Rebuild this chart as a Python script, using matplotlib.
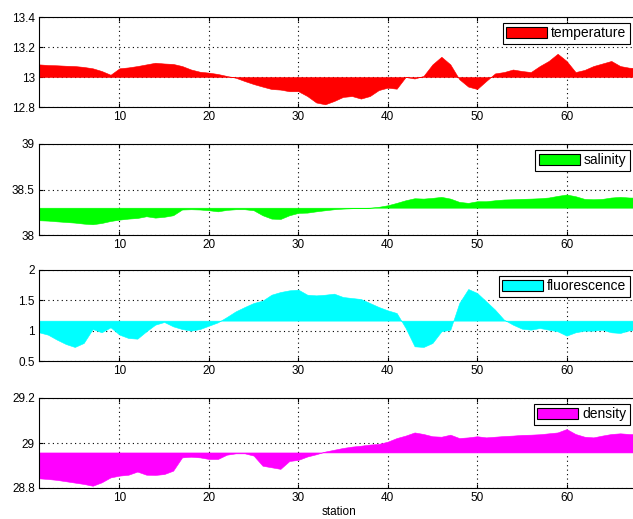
import numpy as np
import matplotlib
matplotlib.use("Agg")
import matplotlib.pyplot as plt

plt.rcParams['font.family'] = ['Liberation Sans', 'DejaVu Sans']
plt.rcParams['font.size'] = 8.5

# station number
station = np.arange(1, 69)

temperature = [13.084, 13.08, 13.078, 13.075, 13.073, 13.067, 13.058, 13.04, 13.015, 13.058,
               13.064, 13.073, 13.084, 13.095, 13.09, 13.087, 13.073, 13.05, 13.035, 13.029,
               13.02, 13.007, 12.995, 12.973, 12.953, 12.936, 12.92, 12.916, 12.905, 12.905,
               12.873, 12.83, 12.818, 12.84, 12.867, 12.873, 12.856, 12.873, 12.913, 12.929,
               12.922, 13.0, 12.99, 13.007, 13.084, 13.135, 13.084, 12.985, 12.936, 12.92,
               12.973, 13.024, 13.033, 13.05, 13.04, 13.033, 13.073, 13.107, 13.155, 13.107,
               13.033, 13.047, 13.073, 13.09, 13.107, 13.073, 13.062, 13.06]

salinity = [38.162, 38.158, 38.15, 38.143, 38.136, 38.125, 38.118, 38.132, 38.154, 38.169,
            38.18, 38.187, 38.206, 38.191, 38.2, 38.217, 38.28, 38.283, 38.28, 38.272,
            38.26, 38.276, 38.283, 38.283, 38.272, 38.217, 38.18, 38.176, 38.217, 38.243,
            38.246, 38.26, 38.272, 38.283, 38.29, 38.294, 38.298, 38.30, 38.31, 38.327,
            38.353, 38.382, 38.404, 38.4, 38.408, 38.419, 38.4, 38.364, 38.353, 38.371,
            38.371, 38.382, 38.39, 38.393, 38.397, 38.4, 38.404, 38.412, 38.43, 38.445,
            38.426, 38.397, 38.393, 38.397, 38.412, 38.419, 38.412, 38.41]

fluorescence = [0.973, 0.934, 0.852, 0.78, 0.731, 0.797, 1.027, 0.973, 1.055, 0.934,
                0.879, 0.868, 0.989, 1.099, 1.143, 1.071, 1.027, 1.0, 1.027, 1.082,
                1.137, 1.225, 1.319, 1.39, 1.456, 1.495, 1.593, 1.637, 1.665, 1.676,
                1.593, 1.582, 1.593, 1.61, 1.555, 1.538, 1.522, 1.456, 1.39, 1.335,
                1.291, 1.044, 0.742, 0.731, 0.797, 0.989, 1.016, 1.456, 1.687, 1.621,
                1.484, 1.346, 1.181, 1.099, 1.033, 1.016, 1.044, 1.016, 0.989, 0.918,
                0.973, 1.0, 1.0, 1.016, 0.973, 0.962, 1.005, 1.01]

density = [28.843, 28.84, 28.836, 28.83, 28.824, 28.818, 28.81, 28.825, 28.847, 28.855,
           28.859, 28.873, 28.859, 28.858, 28.862, 28.877, 28.936, 28.939, 28.936, 28.929,
           28.929, 28.948, 28.954, 28.954, 28.944, 28.899, 28.892, 28.885, 28.92, 28.925,
           28.94, 28.95, 28.962, 28.97, 28.978, 28.984, 28.988, 28.993, 28.996, 29.006,
           29.022, 29.033, 29.047, 29.04, 29.03, 29.028, 29.037, 29.022, 29.025, 29.03,
           29.025, 29.028, 29.031, 29.033, 29.036, 29.037, 29.039, 29.043, 29.047, 29.062,
           29.04, 29.028, 29.025, 29.033, 29.04, 29.043, 29.04, 29.04]

names = ['temperature', 'salinity', 'fluorescence', 'density']
series = [temperature, salinity, fluorescence, density]
baselines = [13.0, 38.30, 1.165, 28.958]
colors = ['#ff0000', '#00ff00', '#00ffff', '#ff00ff']
ylims = [(12.8, 13.4), (38, 39), (0.5, 2), (28.8, 29.2)]
yticks = [[12.8, 13, 13.2, 13.4], [38, 38.5, 39], [0.5, 1, 1.5, 2], [28.8, 29, 29.2]]
yticklabels = [['12.8', '13', '13.2', '13.4'], ['38', '38.5', '39'],
               ['0.5', '1', '1.5', '2'], ['28.8', '29', '29.2']]

fig = plt.figure(figsize=(6.33, 5.19), dpi=100)

# axes boxes in figure pixels: (top, bottom); right edge runs past the image
boxes = [(17, 107), (144, 235), (270, 361), (398, 488)]
W, H = 633.0, 519.0
left_px, right_px = 39, 639

for i in range(4):
    top, bot = boxes[i]
    ax = fig.add_axes([left_px / W, 1 - bot / H, (right_px - left_px) / W, (bot - top) / H])
    ax.fill_between(station, series[i], baselines[i], color=colors[i], lw=0.4,
                    edgecolor=colors[i], label=names[i])
    ax.set_xlim(1, 68.1)
    ax.set_ylim(*ylims[i])
    ax.set_xticks([10, 20, 30, 40, 50, 60])
    ax.set_yticks(yticks[i])
    ax.set_yticklabels(yticklabels[i])
    ax.grid(True, linestyle=(0, (1, 3)), color='black', linewidth=0.8)
    ax.set_axisbelow(True)
    ax.tick_params(direction='in', length=3, top=True, right=True, pad=3)
    for s in ax.spines.values():
        s.set_linewidth(0.8)
    leg = ax.legend(loc='upper right', bbox_to_anchor=(0.985, 1 - 6.0 / (bot - top)),
                    fancybox=False, framealpha=1, edgecolor='black', fontsize=10,
                    handlelength=2.95, handleheight=0.9, handletextpad=0.3,
                    borderpad=0.25, borderaxespad=0)
    leg.get_frame().set_linewidth(0.8)
    leg.legend_handles[0].set_edgecolor('black')
    leg.legend_handles[0].set_linewidth(0.8)
    if i == 3:
        ax.set_xlabel('station', labelpad=1)

fig.savefig('out.png', dpi=100)
